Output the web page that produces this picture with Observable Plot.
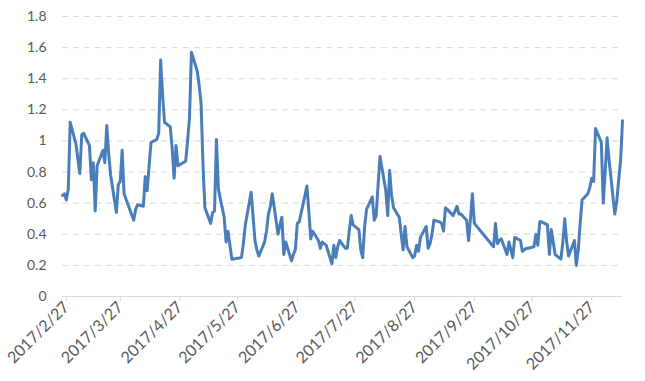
<!DOCTYPE html>
<html>
<head>
<meta charset="utf-8">
<script src="https://cdn.jsdelivr.net/npm/d3@7"></script>
<script src="https://cdn.jsdelivr.net/npm/@observablehq/plot@0.6"></script>
<style>
  html, body { margin: 0; padding: 0; background: #fff; }
  #chart { width: 645px; height: 381px; }
</style>
</head>
<body>
<div id="chart"></div>
<script>
const dates = [
"2017-02-27","2017-02-28","2017-03-01","2017-03-02","2017-03-03",
"2017-03-06","2017-03-07","2017-03-08","2017-03-09","2017-03-10",
"2017-03-13","2017-03-14","2017-03-15","2017-03-16","2017-03-17",
"2017-03-20","2017-03-21","2017-03-22","2017-03-23","2017-03-24",
"2017-03-27","2017-03-28","2017-03-29","2017-03-30","2017-03-31",
"2017-04-05","2017-04-06","2017-04-07",
"2017-04-10","2017-04-11","2017-04-12","2017-04-13","2017-04-14",
"2017-04-17","2017-04-18","2017-04-19","2017-04-20","2017-04-21",
"2017-04-24","2017-04-25","2017-04-26","2017-04-27","2017-04-28",
"2017-05-02","2017-05-03","2017-05-04","2017-05-05",
"2017-05-08","2017-05-09","2017-05-10","2017-05-11","2017-05-12",
"2017-05-15","2017-05-16","2017-05-17","2017-05-18","2017-05-19",
"2017-05-22","2017-05-23","2017-05-24","2017-05-25","2017-05-26",
"2017-05-31","2017-06-01","2017-06-02",
"2017-06-05","2017-06-06","2017-06-07","2017-06-08","2017-06-09",
"2017-06-12","2017-06-13","2017-06-14","2017-06-15","2017-06-16",
"2017-06-19","2017-06-20","2017-06-21","2017-06-22","2017-06-23",
"2017-06-26","2017-06-27","2017-06-28","2017-06-29","2017-06-30",
"2017-07-03","2017-07-04","2017-07-05","2017-07-06","2017-07-07",
"2017-07-10","2017-07-11","2017-07-12","2017-07-13","2017-07-14",
"2017-07-17","2017-07-18","2017-07-19","2017-07-20","2017-07-21",
"2017-07-24","2017-07-25","2017-07-26","2017-07-27","2017-07-28",
"2017-07-31","2017-08-01","2017-08-02","2017-08-03","2017-08-04",
"2017-08-07","2017-08-08","2017-08-09","2017-08-10","2017-08-11",
"2017-08-14","2017-08-15","2017-08-16","2017-08-17","2017-08-18",
"2017-08-21","2017-08-22","2017-08-23","2017-08-24","2017-08-25",
"2017-08-28","2017-08-29","2017-08-30","2017-08-31","2017-09-01",
"2017-09-04","2017-09-05","2017-09-06","2017-09-07","2017-09-08",
"2017-09-11","2017-09-12","2017-09-13","2017-09-14","2017-09-15",
"2017-09-18","2017-09-19","2017-09-20","2017-09-21","2017-09-22",
"2017-09-25","2017-09-26","2017-09-27","2017-09-28","2017-09-29",
"2017-10-09","2017-10-10","2017-10-11","2017-10-12","2017-10-13",
"2017-10-16","2017-10-17","2017-10-18","2017-10-19","2017-10-20",
"2017-10-23","2017-10-24","2017-10-25","2017-10-26","2017-10-27",
"2017-10-30","2017-10-31","2017-11-01","2017-11-02","2017-11-03",
"2017-11-06","2017-11-07","2017-11-08","2017-11-09","2017-11-10",
"2017-11-13","2017-11-14","2017-11-15","2017-11-16","2017-11-17",
"2017-11-20","2017-11-21","2017-11-22","2017-11-23","2017-11-24",
"2017-11-27","2017-11-28","2017-11-29","2017-11-30","2017-12-01",
"2017-12-04","2017-12-05","2017-12-06","2017-12-07","2017-12-08",
"2017-12-11","2017-12-12","2017-12-13","2017-12-14","2017-12-15"
];
const values = [
0.65,0.66,0.62,0.69,1.12,
0.98,0.88,0.79,1.04,1.05,
0.97,0.75,0.86,0.55,0.84,
0.94,0.86,1.10,0.92,0.78,
0.54,0.72,0.74,0.94,0.66,
0.49,0.56,0.59,
0.58,0.77,0.68,0.84,0.99,
1.01,1.05,1.52,1.30,1.12,
1.09,0.95,0.76,0.97,0.84,
0.87,1.00,1.15,1.57,
1.45,1.36,1.24,0.85,0.57,
0.47,0.54,0.55,1.01,0.69,
0.51,0.35,0.42,0.33,0.24,
0.25,0.34,0.46,
0.67,0.52,0.36,0.30,0.26,
0.35,0.42,0.53,0.58,0.66,
0.40,0.46,0.51,0.27,0.35,
0.23,0.27,0.30,0.47,0.48,
0.65,0.71,0.55,0.37,0.42,
0.36,0.31,0.35,0.34,0.33,
0.21,0.33,0.25,0.32,0.36,
0.31,0.31,0.42,0.52,0.46,
0.43,0.30,0.25,0.45,0.56,
0.64,0.49,0.52,0.72,0.90,
0.68,0.52,0.81,0.65,0.57,
0.51,0.40,0.30,0.45,0.32,
0.25,0.26,0.33,0.29,0.38,
0.45,0.31,0.34,0.40,0.49,
0.48,0.47,0.42,0.57,0.56,
0.52,0.55,0.58,0.53,0.53,
0.49,0.36,0.50,0.66,0.47,
0.32,0.47,0.34,0.36,0.37,
0.27,0.35,0.30,0.25,0.38,
0.36,0.29,0.30,0.31,0.31,
0.32,0.40,0.33,0.48,0.48,
0.46,0.27,0.43,0.35,0.27,
0.24,0.35,0.50,0.35,0.26,
0.36,0.20,0.30,0.47,0.62,
0.66,0.70,0.76,0.74,1.08,
0.99,0.60,0.80,1.02,0.88,
0.53,0.61,0.75,0.87,1.13
];
const xTickLabels = ["2017/2/27","2017/3/27","2017/4/27","2017/5/27","2017/6/27","2017/7/27","2017/8/27","2017/9/27","2017/10/27","2017/11/27"];
const yTicks = [0,0.2,0.4,0.6,0.8,1,1.2,1.4,1.6,1.8];

const parse = d3.utcParse("%Y-%m-%d");
const parseLabel = d3.utcParse("%Y/%m/%d");
const data = dates.map((d, i) => ({date: parse(d), value: values[i]}));
const xTicks = xTickLabels.map(s => parseLabel(s));
const fmt = d3.utcFormat("%Y/%-m/%-d");

const chart = Plot.plot({
  width: 645,
  height: 381,
  marginLeft: 62,
  marginRight: 23,
  marginTop: 16,
  marginBottom: 85,
  style: {fontFamily: "Lato, 'Open Sans', sans-serif", fontSize: "14px", background: "#fff"},
  x: {type: "utc", domain: [data[0].date, data[data.length - 1].date]},
  y: {domain: [0, 1.8]},
  marks: [
    Plot.ruleY(yTicks.filter(d => d > 0), {stroke: "#d9d9d9", strokeWidth: 1, strokeDasharray: "6,5"}),
    Plot.ruleY([0], {stroke: "#d9d9d9", strokeWidth: 1}),
    Plot.axisY({ticks: yTicks, tickSize: 0, tickPadding: 16, tickFormat: d => String(+d.toFixed(1)), fill: "#595959", fontSize: 14, label: null}),
    Plot.axisX({ticks: xTicks, tickSize: 5, tickPadding: 3, tickRotate: -45, tickFormat: fmt, stroke: "#d9d9d9", fill: "#595959", fontSize: 16, dx: 4, label: null}),
    Plot.lineY(data, {x: "date", y: "value", stroke: "#4a7ebb", strokeWidth: 3, strokeLinejoin: "round"})
  ]
});
document.getElementById("chart").appendChild(chart);
</script>
</body>
</html>
